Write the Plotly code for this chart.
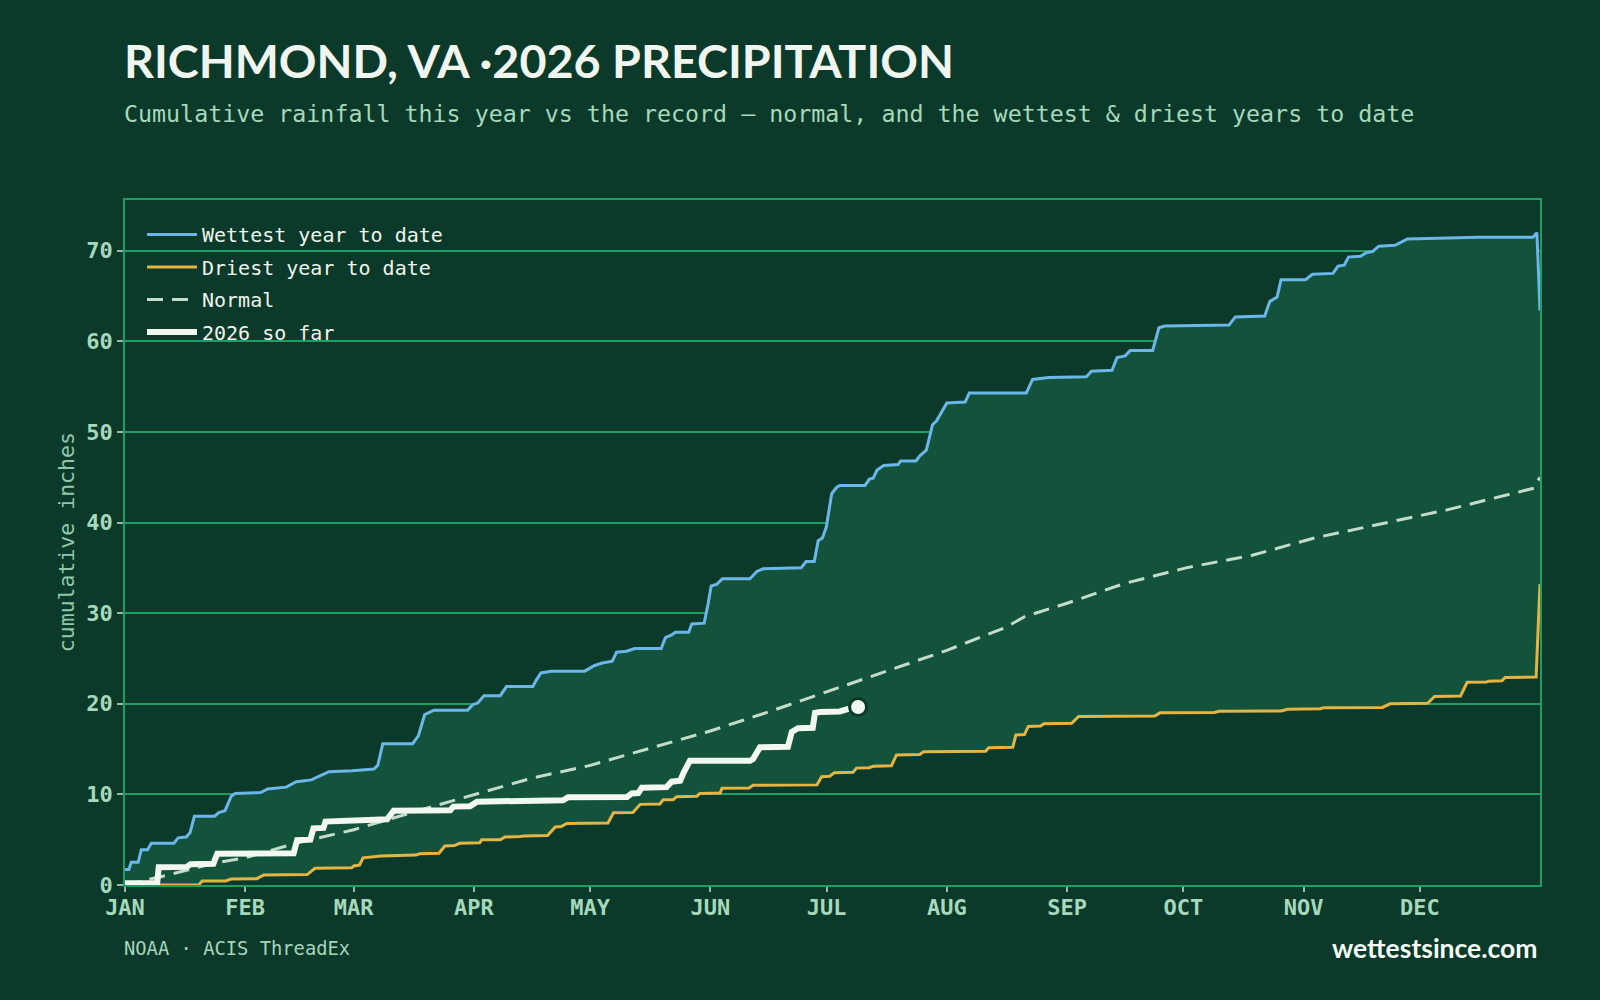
import plotly.graph_objects as go

# ---------------- data (day-of-year, cumulative inches) ----------------
wet_doy = [1, 2, 2.6, 4.4, 5.2, 6.8, 7.8, 13.6, 14.7, 16.8, 17.8, 18.9, 24.1, 25.2, 26.8, 28.4, 29.4,
           36, 37.8, 42.6, 45.2, 49.1, 51, 53.6, 59.6, 65.2, 66.2, 67.5, 75.2, 76.7, 78.3, 80.7, 89.4,
           90.7, 92, 93.6, 97.8, 99.4, 106.2, 107.2, 108.3, 110.9, 119.6, 122, 124.1, 126.7, 127.8,
           130.4, 132.5, 139.3, 140.4, 142, 143, 146.4, 147.2, 150.4, 151.4, 152.2, 153.7, 155.1,
           162.2, 164, 165.6, 175.4, 176.7, 178.8, 179.8, 180.9, 181.9, 183.3, 184.6, 185.4, 191.9,
           193, 194, 195, 196.7, 200.4, 201.1, 205, 206.1, 207.7, 209.3, 210.3, 213, 217.7, 218.8,
           233.5, 235.1, 239.3, 249, 250.3, 255.6, 256.9, 259, 260.3, 266.1, 267.7, 269.2, 285.8,
           287.4, 295, 296.3, 298.2, 299.2, 305.5, 307.3, 312.6, 313.9, 315.5, 316.6, 319.7, 321.3,
           322.8, 324.4, 328.6, 331.8, 350, 364.2, 365.2, 366]
wet_val = [1.7, 1.7, 2.5, 2.5, 3.9, 3.9, 4.6, 4.6, 5.2, 5.3, 5.8, 7.6, 7.6, 8.0, 8.2, 9.8, 10.1,
           10.2, 10.6, 10.8, 11.4, 11.6, 12.0, 12.5, 12.6, 12.8, 13.2, 15.6, 15.6, 16.5, 18.8, 19.3, 19.3,
           19.9, 20.1, 20.9, 20.9, 21.9, 21.9, 22.7, 23.4, 23.6, 23.6, 24.2, 24.5, 24.7, 25.7,
           25.8, 26.1, 26.1, 27.3, 27.6, 27.9, 27.9, 28.8, 28.9, 31.0, 33.0, 33.2, 33.8,
           33.8, 34.6, 34.9, 35.0, 35.7, 35.7, 38.0, 38.3, 39.5, 43.2, 43.9, 44.1, 44.1,
           44.8, 44.9, 45.8, 46.3, 46.4, 46.8, 46.8, 47.4, 48.0, 50.8, 51.2, 53.2, 53.3, 54.3,
           54.3, 55.8, 56.0, 56.1, 56.7, 56.8, 58.2, 58.4, 59.0, 59.0, 61.5, 61.7, 61.8,
           62.7, 62.8, 64.4, 64.9, 66.8, 66.8, 67.4, 67.5, 68.3, 68.4, 69.3, 69.4, 69.8,
           69.9, 70.5, 70.6, 71.3, 71.5, 71.5, 72.0, 63.4]

dry_doy = [1, 20, 20.9, 27, 28.3, 35, 36.8, 48, 50, 59.5, 60, 61.5, 62.4, 67, 76, 77, 82, 83.5, 86,
           87.3, 92.5, 93, 97.8, 99, 102.9, 104, 110, 112, 113.5, 115, 125.6, 127, 132, 133.9, 139,
           139.8, 142.4, 143.3, 148.5, 149.3, 154.5, 155, 162, 163, 179.5, 180.7, 182.8, 184, 188.8,
           189.7, 193, 194, 198.7, 200, 206, 207, 223, 223.8, 230, 230.8, 233, 234, 237.2, 238,
           245.2, 247, 266.6, 268, 282, 283.2, 299.2, 300.9, 309.4, 310.2, 325.4, 327.3, 337,
           338.8, 345.5, 347.2, 352.2, 352.7, 356.2, 357, 365, 366]
dry_val = [0.0, 0.0, 0.44, 0.44, 0.66, 0.7, 1.1, 1.15, 1.84, 1.9, 2.1, 2.2, 3.0, 3.2, 3.3, 3.45, 3.5, 4.3, 4.35,
           4.6, 4.65, 5.0, 5.0, 5.3, 5.35, 5.4, 5.45, 6.4, 6.45, 6.8, 6.85, 7.98, 8.0, 8.9, 8.95,
           9.4, 9.4, 9.75, 9.8, 10.1, 10.15, 10.67, 10.7, 11.0, 11.05, 11.95, 12.0, 12.4, 12.45,
           12.9, 12.95, 13.1, 13.15, 14.35, 14.4, 14.7, 14.75, 15.15, 15.2, 16.55, 16.6, 17.5, 17.55, 17.8,
           17.85, 18.6, 18.65, 19.0, 19.05, 19.17, 19.2, 19.4, 19.45, 19.57, 19.6, 20.0, 20.05,
           20.8, 20.85, 22.37, 22.4, 22.5, 22.55, 22.9, 22.95, 33.2]

norm_doy = [1, 12, 24, 32, 45, 60, 75, 91, 106, 121, 136, 152, 167, 182, 197, 213, 228, 233, 244,
            259, 274.7, 291.8, 307.8, 327, 342, 364.5, 366]
norm_val = [0.0, 1.1, 2.4, 3.0, 4.6, 6.1, 8.0, 10.0, 11.8, 13.2, 15.0, 17.0, 19.1, 21.3, 23.5,
            25.9, 28.4, 29.6, 31.1, 33.3, 35.0, 36.4, 38.3, 40.0, 41.4, 43.8, 45.0]

cur_doy = [1, 9.3, 9.7, 17, 17.9, 23.8, 24.8, 44.5, 45.4, 48.8, 49.6, 52.2, 52.7, 60, 61, 68.6, 70.3,
           84.9, 85.7, 90, 91.8, 108, 114, 115.3, 130.5, 131.7, 133.4, 134.3, 140.7, 142, 144.2,
           145.2, 146.7, 162.2, 163, 164.8, 172, 173, 174.6, 178.4, 179, 180.3, 185.4, 188, 190.1]
cur_val = [0.2, 0.2, 1.95, 2.0, 2.3, 2.35, 3.45, 3.5, 4.95, 5.0, 6.25, 6.3, 7.0, 7.05, 7.2, 7.25, 8.2,
           8.25, 8.65, 8.7, 9.2, 9.3, 9.35, 9.68, 9.7, 10.1, 10.15, 10.74, 10.8, 11.4, 11.5,
           12.5, 13.7, 13.7, 13.9, 15.2, 15.25, 16.9, 17.3, 17.35, 19.0, 19.1, 19.15, 19.5, 19.65]

month_doy = [1, 32, 60, 91, 121, 152, 182, 213, 244, 274, 305, 335]
month_lbl = ["JAN", "FEB", "MAR", "APR", "MAY", "JUN", "JUL", "AUG", "SEP", "OCT", "NOV", "DEC"]
y_ticks = [0, 10, 20, 30, 40, 50, 60, 70]

# ---------------- style ----------------
BG = "#0b3a2a"
BAND = "#13523b"
GRID = "#1f9d62"
WET = "#6cb6ea"
DRY = "#e6b445"
NORM = "#c4dccb"
CUR = "#f2f8f0"
MINT = "#a6d8bb"
MONO = "DejaVu Sans Mono"

fig = go.Figure()

# band between driest and wettest
fig.add_trace(go.Scatter(x=dry_doy, y=dry_val, mode="lines", line=dict(width=0, color=BAND),
                         showlegend=False, hoverinfo="skip"))
fig.add_trace(go.Scatter(x=wet_doy, y=wet_val, mode="lines", line=dict(width=0, color=BAND),
                         fill="tonexty", fillcolor=BAND, showlegend=False, hoverinfo="skip"))

fig.add_trace(go.Scatter(x=wet_doy, y=wet_val, mode="lines", name="Wettest year to date",
                         line=dict(color=WET, width=3), legendgroup="a"))
fig.add_trace(go.Scatter(x=dry_doy, y=dry_val, mode="lines", name="Driest year to date",
                         line=dict(color=DRY, width=3), legendgroup="b"))
fig.add_trace(go.Scatter(x=norm_doy, y=norm_val, mode="lines", name="Normal",
                         line=dict(color=NORM, width=3, dash="16px,9px"), legendgroup="c"))
fig.add_trace(go.Scatter(x=cur_doy, y=cur_val, mode="lines", name="2026 so far",
                         line=dict(color=CUR, width=6), legendgroup="d"))
fig.add_trace(go.Scatter(x=[cur_doy[-1]], y=[cur_val[-1]], mode="markers", showlegend=False,
                         marker=dict(size=17, color=CUR, line=dict(color=BG, width=3))))

fig.update_layout(
    width=1600, height=1000,
    paper_bgcolor=BG, plot_bgcolor=BG,
    margin=dict(l=124.5, r=60, t=200, b=115),
    showlegend=True,
    legend=dict(x=0.012, y=0.978, xanchor="left", yanchor="top", bgcolor="rgba(0,0,0,0)",
                font=dict(family=MONO, size=20, color="#eef5ee"),
                traceorder="grouped", tracegroupgap=3.5, itemwidth=50),
    xaxis=dict(range=[1, 366], tickmode="array", tickvals=month_doy, ticktext=month_lbl,
               showgrid=False, zeroline=False, showline=True, linecolor=GRID, linewidth=1.5,
               mirror=True, ticks="outside", ticklen=5, tickcolor="#9db8a8", tickwidth=1.5,
               ticklabelstandoff=-3,
               tickfont=dict(family=MONO, size=22, color=MINT, weight="bold")),
    yaxis=dict(range=[0, 75.6], tickmode="array", tickvals=y_ticks,
               showgrid=True, gridcolor=GRID, gridwidth=1.5, zeroline=False,
               showline=True, linecolor=GRID, linewidth=1.5, mirror=True,
               ticks="outside", ticklen=6, tickcolor="#9db8a8", tickwidth=1.5,
               tickfont=dict(family=MONO, size=22, color=MINT, weight="bold")),
)

fig.add_annotation(text="RICHMOND, VA ·2026 PRECIPITATION", xref="paper", yref="paper",
                   x=-0.002, y=1.2044, xanchor="left", yanchor="middle", showarrow=False,
                   font=dict(family="Lato", size=46.7, color="#f0f6ef", weight="bold"))
fig.add_annotation(text="Cumulative rainfall this year vs the record — normal, and the wettest & driest years to date",
                   xref="paper", yref="paper", x=-0.002, y=1.127, xanchor="left", yanchor="middle",
                   showarrow=False, font=dict(family=MONO, size=23.3, color=MINT))
fig.add_annotation(text="cumulative inches", xref="paper", yref="paper", x=-0.0412, y=0.5,
                   xanchor="center", yanchor="middle", textangle=-90, showarrow=False,
                   font=dict(family=MONO, size=21.5, color="#8fc7a8"))
fig.add_annotation(text="NOAA · ACIS ThreadEx", xref="paper", yref="paper", x=-0.002, y=-0.092,
                   xanchor="left", yanchor="middle", showarrow=False,
                   font=dict(family=MONO, size=18.8, color="#a8d4bc"))
fig.add_annotation(text="wettestsince.com", xref="paper", yref="paper", x=1, y=-0.092,
                   xanchor="right", yanchor="middle", showarrow=False,
                   font=dict(family="Lato", size=26.5, color="#f6faf5", weight="bold"))

fig.write_html("out.html")
